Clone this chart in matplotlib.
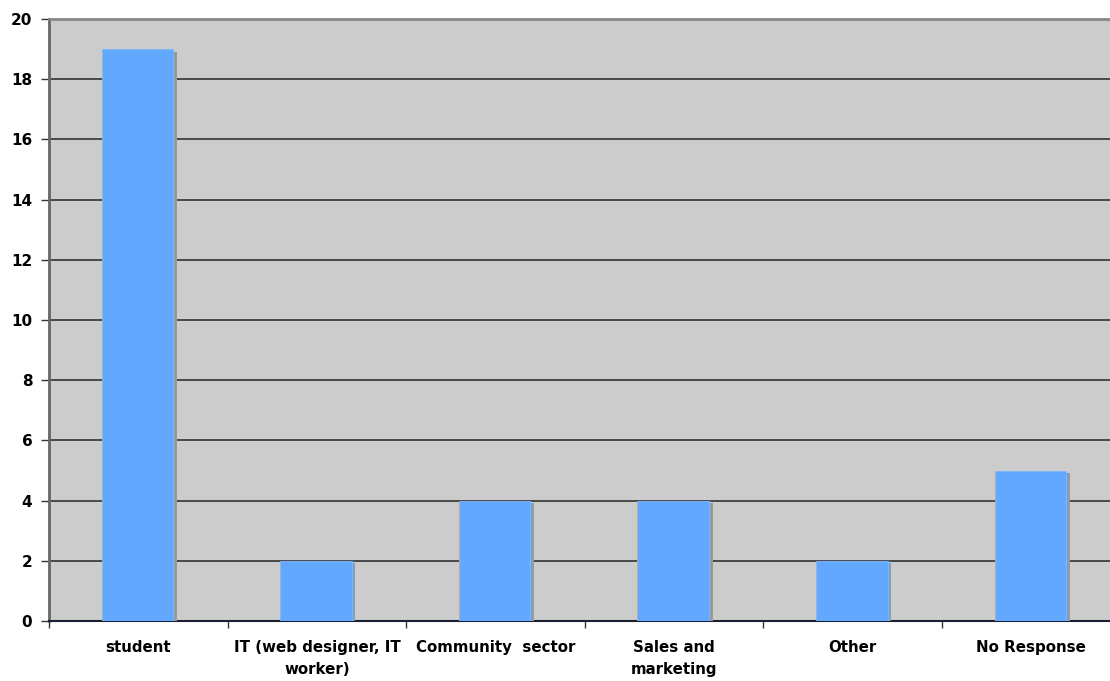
import matplotlib
matplotlib.use("Agg")
import matplotlib.pyplot as plt
import matplotlib.patheffects as pe
import numpy as np

categories = ["student", "IT (web designer, IT\nworker)", "Community  sector",
              "Sales and\nmarketing", "Other", "No Response"]
values = [19, 2, 4, 4, 2, 5]
yticks = list(range(0, 21, 2))

plt.rcParams['font.family'] = ['DejaVu Sans']

fig = plt.figure(figsize=(11.10, 6.81), dpi=100)
W, H = 1110, 681
left, right, top, bottom = 49, 1120.6, 19, 621
ax = fig.add_axes([left / W, (H - bottom) / H, (right - left) / W, (bottom - top) / H])
ax.set_facecolor('#CCCCCC')

x = np.arange(len(categories))
bars = ax.bar(x - 0.005, values, width=0.40, color='#63A8FF', edgecolor='#7FB8FF',
              linewidth=0.6, zorder=3)
for b in bars:
    b.set_path_effects([pe.SimplePatchShadow(offset=(2.6, -1.8), shadow_rgbFace='#999999', alpha=1.0),
                        pe.Normal()])

ax.set_xlim(-0.5, len(categories) - 0.5)
ax.set_ylim(0, 20)
ax.set_yticks(yticks)
ax.set_yticklabels([str(v) for v in yticks], fontsize=11, fontweight='bold')
ax.yaxis.grid(True, color='#333333', linewidth=1.2, zorder=1)
ax.set_axisbelow(True)

ax.set_xticks(x)
ax.set_xticklabels(categories, fontsize=10.8, fontweight='bold', linespacing=1.55)
ax.set_xticks(np.arange(len(categories) + 1) - 0.5, minor=True)
ax.tick_params(axis='x', which='major', length=0, pad=14)
ax.tick_params(axis='x', which='minor', length=5, width=1, color='#333333', direction='out')
ax.tick_params(axis='y', length=6, width=1, color='#333333', direction='out', pad=6)

ax.spines['left'].set_color('#666666')
ax.spines['left'].set_linewidth(2)
ax.spines['top'].set_color('#888888')
ax.spines['top'].set_linewidth(2)
ax.spines['bottom'].set_color('#1a1f33')
ax.spines['bottom'].set_linewidth(1.5)
ax.spines['right'].set_visible(False)

fig.savefig("out.png", dpi=100)
